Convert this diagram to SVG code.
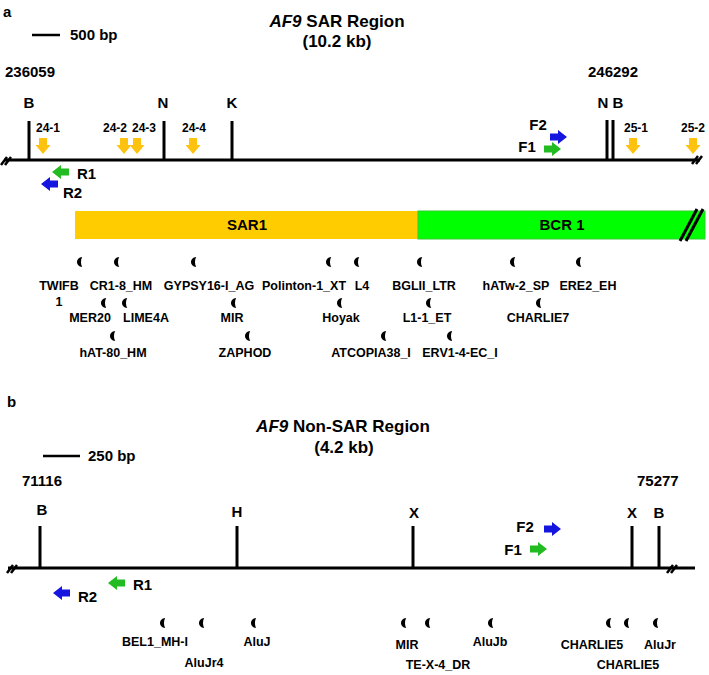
<svg xmlns="http://www.w3.org/2000/svg" xmlns:xlink="http://www.w3.org/1999/xlink" width="709" height="675" viewBox="0 0 709 675">
<style>
text{font-family:"Liberation Sans",Arial,sans-serif;font-weight:bold;fill:#000}
.panel{font-size:15px}
.title{font-size:17px}
.lbl{font-size:15px}
.num{font-size:12px}
.rep{font-size:12.5px}
.mid{text-anchor:middle}
.line{stroke:#000;stroke-width:3;fill:none}
.tick{stroke:#000;stroke-width:3;fill:none}
.brk{stroke:#000;stroke-width:2.5;fill:none}
</style>
<defs>
<path id="cres" d="M3.2,-5 C-3.8,-4.5 -3.8,4.5 3.2,5 C1.6,2.5 1.6,-2.5 3.2,-5 Z" fill="#000"/>
<polygon id="yarr" points="-4,0 4,0 4,7 7.5,7 0,16 -7.5,7 -4,7" fill="#FFC20E"/>
<polygon id="rarr" points="0,-3.5 8,-3.5 8,-7 17,0 8,7 8,3.5 0,3.5"/>
<polygon id="larr" points="0,-3.5 -8,-3.5 -8,-7 -17,0 -8,7 -8,3.5 0,3.5"/>
</defs>

<!-- Panel a -->
<g id="panel-a-header">
<text class="panel" x="3" y="17">a</text>
<text class="title mid" x="337" y="27"><tspan font-style="italic">AF9</tspan> SAR Region</text>
<text class="title mid" x="337" y="47">(10.2 kb)</text>
<line x1="32" y1="35" x2="60" y2="35" stroke="#000" stroke-width="2.5"/>
<text class="lbl" x="70" y="40">500 bp</text>
<text class="lbl" x="5" y="77">236059</text>
<text class="lbl" x="588" y="77">246292</text>
</g>

<g id="connectors-a">
<line class="line" x1="4" y1="160" x2="700" y2="160"/>
<g class="brk">
<line x1="1" y1="165" x2="7" y2="157"/>
<line x1="5" y1="165" x2="11" y2="157"/>
<line x1="692" y1="164" x2="698" y2="156"/>
<line x1="696" y1="164" x2="702" y2="156"/>
</g>
</g>

<g id="sites-a">
<line class="tick" x1="29" y1="121" x2="29" y2="160"/>
<text class="lbl mid" x="29" y="108">B</text>
<line class="tick" x1="164" y1="121" x2="164" y2="160"/>
<text class="lbl mid" x="163" y="108">N</text>
<line class="tick" x1="232" y1="121" x2="232" y2="160"/>
<text class="lbl mid" x="232" y="108">K</text>
<line class="tick" x1="607" y1="120" x2="607" y2="160" stroke-width="2"/>
<line class="tick" x1="613" y1="120" x2="613" y2="160" stroke-width="2"/>
<text class="lbl mid" x="603" y="108">N</text>
<text class="lbl mid" x="618" y="108">B</text>
</g>

<g id="probes-a">
<use href="#yarr" x="43" y="138"/><text class="num mid" x="48" y="132">24-1</text>
<use href="#yarr" x="124" y="138"/><text class="num mid" x="115" y="132">24-2</text>
<use href="#yarr" x="137" y="138"/><text class="num mid" x="144" y="132">24-3</text>
<use href="#yarr" x="193" y="138"/><text class="num mid" x="194" y="132">24-4</text>
<use href="#yarr" x="633" y="138"/><text class="num mid" x="636" y="132">25-1</text>
<use href="#yarr" x="693" y="138"/><text class="num mid" x="693" y="132">25-2</text>
</g>

<g id="primers-a">
<use href="#larr" x="69" y="172" fill="#22BB22"/><text class="lbl" x="77" y="179">R1</text>
<use href="#larr" x="58" y="184" fill="#1515E0"/><text class="lbl" x="63" y="198">R2</text>
<use href="#rarr" x="550" y="137" fill="#1515E0"/><text class="lbl mid" x="538" y="130">F2</text>
<use href="#rarr" x="544" y="149" fill="#22BB22"/><text class="lbl mid" x="527" y="152">F1</text>
</g>

<g id="SAR1">
<rect x="75" y="211" width="343" height="28" fill="#FFCC00"/>
<text class="lbl mid" x="247" y="230">SAR1</text>
</g>
<g id="BCR1">
<rect x="418" y="211" width="287" height="28" fill="#00FF00" stroke="#33CC33" stroke-width="1"/>
<text class="lbl mid" x="562" y="230">BCR 1</text>
<line x1="680" y1="241" x2="697" y2="209" stroke="#000" stroke-width="3"/>
<line x1="686" y1="241" x2="703" y2="209" stroke="#000" stroke-width="3"/>
</g>

<g id="repeats-a">
<use href="#cres" x="79" y="262"/><use href="#cres" x="116" y="262"/><use href="#cres" x="193" y="262"/><use href="#cres" x="328" y="262"/><use href="#cres" x="356" y="262"/><use href="#cres" x="419" y="262"/><use href="#cres" x="512" y="262"/><use href="#cres" x="578" y="262"/>
<use href="#cres" x="103" y="303"/><use href="#cres" x="124" y="303"/><use href="#cres" x="233" y="303"/><use href="#cres" x="339" y="303"/><use href="#cres" x="428" y="303"/><use href="#cres" x="538" y="303"/>
<use href="#cres" x="112" y="336"/><use href="#cres" x="247" y="336"/><use href="#cres" x="383" y="336"/><use href="#cres" x="449" y="336"/>
<text class="rep mid" x="59" y="290">TWIFB</text>
<text class="rep mid" x="59" y="306">1</text>
<text class="rep mid" x="121" y="290">CR1-8_HM</text>
<text class="rep mid" x="209" y="290">GYPSY16-I_AG</text>
<text class="rep mid" x="304" y="290">Polinton-1_XT</text>
<text class="rep mid" x="362" y="290">L4</text>
<text class="rep mid" x="424" y="290">BGLII_LTR</text>
<text class="rep mid" x="516" y="290">hATw-2_SP</text>
<text class="rep mid" x="588" y="290">ERE2_EH</text>
<text class="rep mid" x="90" y="322">MER20</text>
<text class="rep mid" x="146" y="322">LIME4A</text>
<text class="rep mid" x="232" y="322">MIR</text>
<text class="rep mid" x="341" y="322">Hoyak</text>
<text class="rep mid" x="427" y="322">L1-1_ET</text>
<text class="rep mid" x="538" y="322">CHARLIE7</text>
<text class="rep mid" x="113" y="357">hAT-80_HM</text>
<text class="rep mid" x="245" y="357">ZAPHOD</text>
<text class="rep mid" x="371" y="357">ATCOPIA38_I</text>
<text class="rep mid" x="460" y="357">ERV1-4-EC_I</text>
</g>

<!-- Panel b -->
<g id="panel-b-header">
<text class="panel" x="7" y="407">b</text>
<text class="title mid" x="343" y="432"><tspan font-style="italic">AF9</tspan> Non-SAR Region</text>
<text class="title mid" x="344" y="453">(4.2 kb)</text>
<line x1="43" y1="456" x2="80" y2="456" stroke="#000" stroke-width="2.5"/>
<text class="lbl" x="88" y="461">250 bp</text>
<text class="lbl" x="22" y="486">71116</text>
<text class="lbl" x="637" y="486">75277</text>
</g>

<g id="connectors-b">
<line class="line" x1="8" y1="568" x2="695" y2="568"/>
<g class="brk">
<line x1="7" y1="573" x2="13" y2="565"/>
<line x1="11" y1="573" x2="17" y2="565"/>
<line x1="667" y1="573" x2="673" y2="565"/>
<line x1="671" y1="573" x2="677" y2="565"/>
</g>
</g>

<g id="sites-b">
<line class="tick" x1="40" y1="526" x2="40" y2="568"/>
<text class="lbl mid" x="42" y="515">B</text>
<line class="tick" x1="237" y1="526" x2="237" y2="568"/>
<text class="lbl mid" x="237" y="517">H</text>
<line class="tick" x1="413" y1="526" x2="413" y2="568"/>
<text class="lbl mid" x="414" y="518">X</text>
<line class="tick" x1="632" y1="526" x2="632" y2="568"/>
<text class="lbl mid" x="632" y="518">X</text>
<line class="tick" x1="659" y1="526" x2="659" y2="568"/>
<text class="lbl mid" x="659" y="518">B</text>
</g>

<g id="primers-b">
<use href="#larr" x="125" y="583" fill="#22BB22"/><text class="lbl" x="133" y="590">R1</text>
<use href="#larr" x="70" y="593" fill="#1515E0"/><text class="lbl" x="78" y="602">R2</text>
<use href="#rarr" x="544" y="529" fill="#1515E0"/><text class="lbl mid" x="525" y="532">F2</text>
<use href="#rarr" x="530" y="549" fill="#22BB22"/><text class="lbl mid" x="513" y="555">F1</text>
</g>

<g id="repeats-b">
<use href="#cres" x="162" y="623"/><use href="#cres" x="201" y="623"/><use href="#cres" x="253" y="623"/>
<use href="#cres" x="403" y="623"/><use href="#cres" x="427" y="623"/><use href="#cres" x="490" y="623"/>
<use href="#cres" x="608" y="623"/><use href="#cres" x="626" y="623"/><use href="#cres" x="655" y="623"/>
<text class="rep mid" x="155" y="646">BEL1_MH-I</text>
<text class="rep mid" x="257" y="646">AluJ</text>
<text class="rep mid" x="204" y="667">AluJr4</text>
<text class="rep mid" x="407" y="649">MIR</text>
<text class="rep mid" x="490" y="646">AluJb</text>
<text class="rep mid" x="592" y="649">CHARLIE5</text>
<text class="rep mid" x="660" y="649">AluJr</text>
<text class="rep mid" x="438" y="669">TE-X-4_DR</text>
<text class="rep mid" x="628" y="669">CHARLIE5</text>
</g>
</svg>
